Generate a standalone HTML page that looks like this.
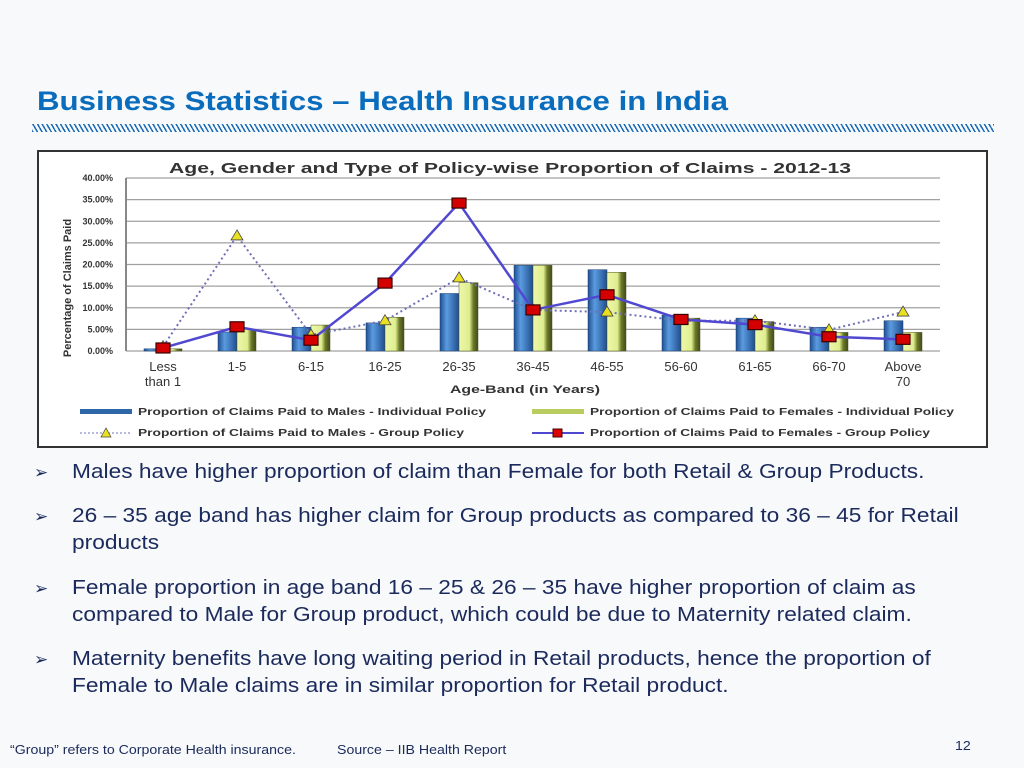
<!DOCTYPE html>
<html><head><meta charset="utf-8">
<style>
body{margin:0;width:1024px;height:768px;background:#f8f9fa;font-family:"Liberation Sans",sans-serif;position:relative;overflow:hidden}
.title{position:absolute;left:37px;top:86px;font-size:27px;font-weight:bold;color:#0a6cbc;transform:scaleX(1.157);transform-origin:0 0;white-space:nowrap}
.hatch{position:absolute;left:32px;top:124px;width:962px;height:8px;background:repeating-linear-gradient(60deg,#1a6cb8 0 1.5px,transparent 1.5px 4px)}
.b{position:absolute;left:34px;font-size:20px;color:#1b2a5c;line-height:27px}
.b span.ar{position:absolute;left:0;top:0;font-size:17px}
.b div{position:absolute;left:38px;top:0;width:790px;transform:scaleX(1.136);transform-origin:0 0}
.foot{position:absolute;top:742px;font-size:13px;color:#1b2a5c;transform:scaleX(1.09);transform-origin:0 0;white-space:nowrap}
</style></head><body>
<div class="title">Business Statistics – Health Insurance in India</div>
<div class="hatch"></div>
<svg id="chart" style="position:absolute;left:37px;top:150px" width="951" height="298" viewBox="37 150 951 298" xmlns="http://www.w3.org/2000/svg">
<defs>
<linearGradient id="gm" x1="0" x2="1"><stop offset="0" stop-color="#1f4f8f"/><stop offset="0.35" stop-color="#5b9be0"/><stop offset="1" stop-color="#1f4f8f"/></linearGradient>
<linearGradient id="gf" x1="0" x2="1"><stop offset="0" stop-color="#eef7a8"/><stop offset="0.55" stop-color="#dfee90"/><stop offset="0.75" stop-color="#6d7a2a"/><stop offset="1" stop-color="#3f4a18"/></linearGradient>
</defs>
<rect x="38" y="151" width="949" height="296" fill="#fff" stroke="#333" stroke-width="2"/>
<g id="grid"></g><g id="bars"></g><g id="lines"></g><g id="labels"></g>
<text x="510" y="173" font-size="15" font-weight="bold" fill="#333" text-anchor="middle" textLength="682" lengthAdjust="spacingAndGlyphs">Age, Gender and Type of Policy-wise Proportion of Claims - 2012-13</text>
<text x="71" y="288" font-size="11" font-weight="bold" fill="#333" text-anchor="middle" transform="rotate(-90 71 288)">Percentage of Claims Paid</text>
<text x="525" y="393" font-size="11" font-weight="bold" fill="#333" text-anchor="middle" textLength="150" lengthAdjust="spacingAndGlyphs">Age-Band (in Years)</text>
<g font-size="10" fill="#333" font-weight="bold">
<g><rect x="80" y="409" width="52" height="5" fill="#2f66a8"/><text x="138" y="415" textLength="348" lengthAdjust="spacingAndGlyphs">Proportion of Claims Paid to Males - Individual Policy</text></g>
<g><rect x="532" y="409" width="52" height="5" fill="#b8cc60"/><text x="590" y="415" textLength="364" lengthAdjust="spacingAndGlyphs">Proportion of Claims Paid to Females - Individual Policy</text></g>
<g><line x1="80" y1="433" x2="132" y2="433" stroke="#7070b8" stroke-dasharray="2,2"/><polygon points="106,428 101,437 111,437" fill="#e8e020" stroke="#444" stroke-width="0.7"/><text x="138" y="436" textLength="326" lengthAdjust="spacingAndGlyphs">Proportion of Claims Paid to Males - Group Policy</text></g>
<g><line x1="532" y1="433" x2="584" y2="433" stroke="#5048d0" stroke-width="2"/><rect x="553" y="429" width="9" height="8" fill="#d00" stroke="#400"/><text x="590" y="436" textLength="340" lengthAdjust="spacingAndGlyphs">Proportion of Claims Paid to Females - Group Policy</text></g>
</g>
</svg>
<div class="b" style="top:459px"><span class="ar">➢</span><div>Males have higher proportion of claim than Female for both Retail &amp; Group Products.</div></div>
<div class="b" style="top:503px"><span class="ar">➢</span><div>26 – 35 age band has higher claim for Group products as compared to 36 – 45 for Retail products</div></div>
<div class="b" style="top:575px"><span class="ar">➢</span><div>Female proportion in age band 16 – 25 &amp; 26 – 35 have higher proportion of claim as compared to Male for Group product, which could be due to Maternity related claim.</div></div>
<div class="b" style="top:646px"><span class="ar">➢</span><div>Maternity benefits have long waiting period in Retail products, hence the proportion of Female to Male claims are in similar proportion for Retail product.</div></div>
<div class="foot" style="left:10px">“Group” refers to Corporate Health insurance.</div>
<div class="foot" style="left:337px">Source – IIB Health Report</div>
<div class="foot" style="left:955px;top:738px">12</div>
<script>
const categories=[["Less","than 1"],["1-5"],["6-15"],["16-25"],["26-35"],["36-45"],["46-55"],["56-60"],["61-65"],["66-70"],["Above","70"]];
const maleIndividual=[0.5,4.4,5.5,6.5,13.3,19.8,18.8,8.3,7.6,5.5,7.0];
const femaleIndividual=[0.5,5.0,6.0,7.8,15.8,19.8,18.2,7.6,6.8,4.3,4.3];
const maleGroup=[1.0,26.6,3.7,7.0,16.9,9.5,9.0,7.0,7.0,4.9,9.0];
const femaleGroup=[0.7,5.6,2.5,15.7,34.2,9.5,13.0,7.3,6.1,3.3,2.7];
const yTicks=[0,5,10,15,20,25,30,35,40];
const tickLabels=["0.00%","5.00%","10.00%","15.00%","20.00%","25.00%","30.00%","35.00%","40.00%"];
const NS="http://www.w3.org/2000/svg";
const x0=126,x1=940,yB=351,yT=178,yMax=40;
const band=(x1-x0)/categories.length;
const xC=i=>x0+band*(i+0.5);
const yS=v=>yB-(v/yMax)*(yB-yT);
function mk(tag,attrs,parent){const e=document.createElementNS(NS,tag);for(const k in attrs)e.setAttribute(k,attrs[k]);parent.appendChild(e);return e;}
const grid=document.getElementById('grid'),bars=document.getElementById('bars'),lines=document.getElementById('lines'),labels=document.getElementById('labels');
yTicks.forEach((t,i)=>{
 const l=mk('line',{x1:x0,x2:x1,y1:yS(t),y2:yS(t),stroke:'#a0a0a0','stroke-width':1.2},grid);
 
 
 const tx=mk('text',{x:x0-13,y:yS(t)+3,'font-size':9,'font-weight':'bold',fill:'#333','text-anchor':'end'},labels);
 tx.textContent=tickLabels[i];
 
 
});
mk('line',{x1:x0,x2:x0,y1:yT,y2:yB,stroke:'#888','stroke-width':2},grid);
const bw=19;
categories.forEach((c,i)=>{
 const cx=xC(i);
 const m=mk('rect',{x:cx-bw,y:yS(maleIndividual[i]),width:bw,height:yB-yS(maleIndividual[i]),fill:'url(#gm)',stroke:'#1a3e70','stroke-width':0.5},bars);
 
 
 const f=mk('rect',{x:cx,y:yS(femaleIndividual[i]),width:bw,height:yB-yS(femaleIndividual[i]),fill:'url(#gf)',stroke:'#4a5520','stroke-width':0.5},bars);
 
 
 c.forEach((s,j)=>{
  const t=mk('text',{x:cx,y:371+j*15,'font-size':13,fill:'#333','text-anchor':'middle'},labels);
  t.textContent=s;
  
  
 });
});
const mg=mk('polyline',{points:maleGroup.map((v,i)=>xC(i)+','+yS(v)).join(' '),fill:'none',stroke:'#7070b8','stroke-width':2,'stroke-dasharray':'2,3'},lines);


const fg=mk('polyline',{points:femaleGroup.map((v,i)=>xC(i)+','+yS(v)).join(' '),fill:'none',stroke:'#5048d0','stroke-width':2.5},lines);


maleGroup.forEach((v,i)=>{
 const x=xC(i),y=yS(v);
 const p=mk('polygon',{points:`${x},${y-6} ${x-6},${y+4} ${x+6},${y+4}`,fill:'#e8e020',stroke:'#444','stroke-width':0.8},lines);
 
 
});
femaleGroup.forEach((v,i)=>{
 const x=xC(i),y=yS(v);
 const r=mk('rect',{x:x-7,y:y-5,width:14,height:10,fill:'#d40000',stroke:'#3a0000','stroke-width':1.2},lines);
 
 
});
</script>
</body></html>
